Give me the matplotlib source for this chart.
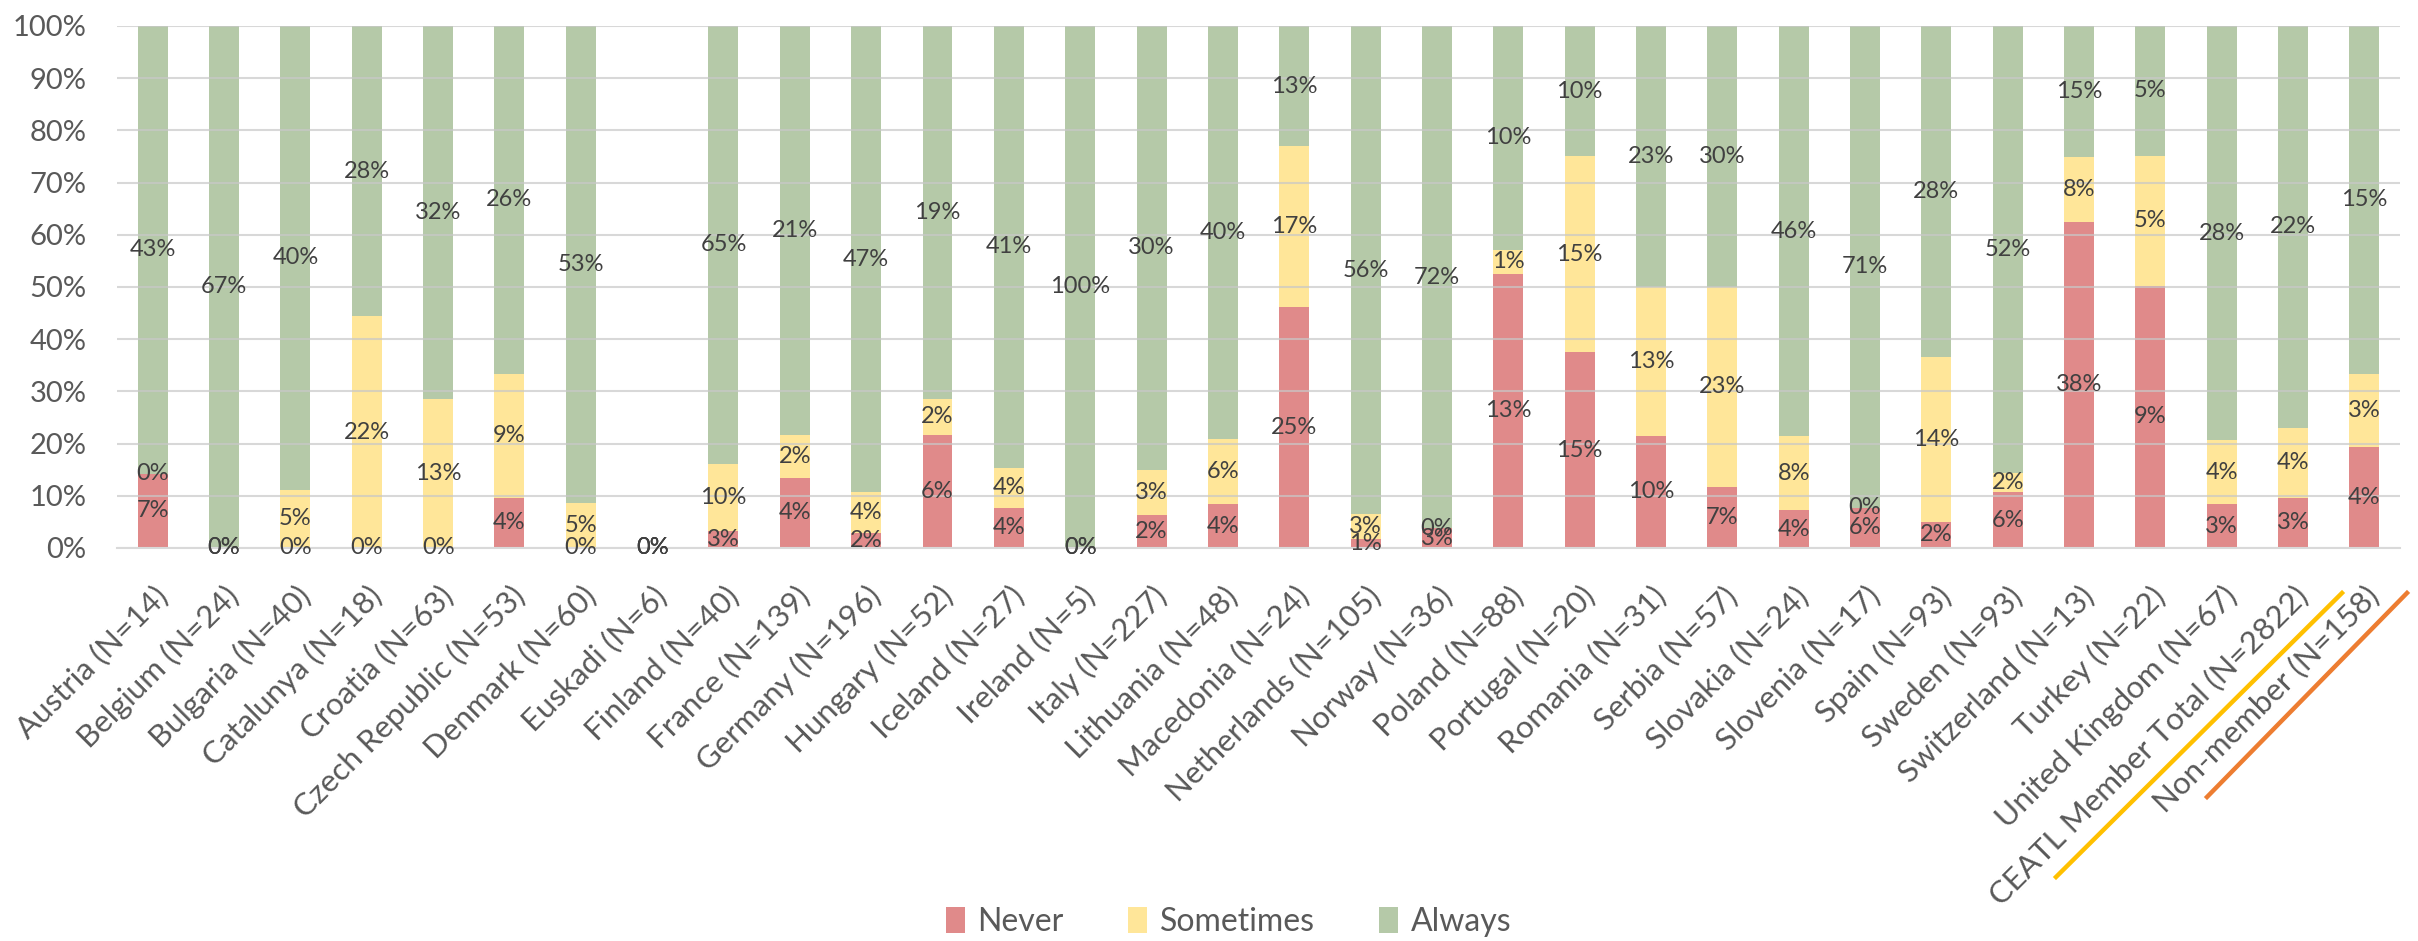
import math
import matplotlib
matplotlib.use("Agg")
import matplotlib.pyplot as plt
import numpy as np
from matplotlib.lines import Line2D
from matplotlib.patches import Patch

plt.rcParams['font.family'] = ['Lato', 'DejaVu Sans']

categories = [
    "Austria (N=14)", "Belgium (N=24)", "Bulgaria (N=40)", "Catalunya (N=18)",
    "Croatia (N=63)", "Czech Republic (N=53)", "Denmark (N=60)", "Euskadi (N=6)",
    "Finland (N=40)", "France (N=139)", "Germany (N=196)", "Hungary (N=52)",
    "Iceland (N=27)", "Ireland (N=5)", "Italy (N=227)", "Lithuania (N=48)",
    "Macedonia (N=24)", "Netherlands (N=105)", "Norway (N=36)", "Poland (N=88)",
    "Portugal (N=20)", "Romania (N=31)", "Serbia (N=57)", "Slovakia (N=24)",
    "Slovenia (N=17)", "Spain (N=93)", "Sweden (N=93)", "Switzerland (N=13)",
    "Turkey (N=22)", "United Kingdom (N=67)", "CEATL Member Total (N=2822)",
    "Non-member (N=158)",
]

# share of respondents (%) per answer
never = [7.1, 0, 0, 0, 0, 3.8, 0, 0, 2.5, 3.6, 1.5, 5.8, 3.7, 0, 2.2, 4.2,
         25.0, 1.0, 2.8, 12.5, 15.0, 9.7, 7.0, 4.2, 5.9, 2.2, 6.4, 38.4,
         9.1, 3.0, 2.8, 4.4]
sometimes = [0, 0, 5.0, 22.2, 12.7, 9.4, 5.0, 0, 10.0, 2.2, 4.1, 1.9, 3.7, 0,
             3.1, 6.3, 16.7, 2.9, 0, 1.1, 15.0, 12.9, 22.8, 8.3, 0, 14.0, 2.2,
             7.7, 4.5, 4.4, 3.9, 3.2]
always = [42.9, 66.7, 40.0, 27.8, 31.7, 26.4, 53.3, 0, 65.0, 20.9, 46.9, 19.2,
          40.7, 100.0, 30.0, 39.6, 12.5, 56.2, 72.2, 10.2, 10.0, 22.6, 29.8,
          45.8, 70.6, 28.0, 51.6, 15.4, 4.5, 28.4, 22.4, 15.2]

series_names = ["Never", "Sometimes", "Always"]
colors = ["#E08A8A", "#FFE699", "#B5C9A8"]

data = np.array([never, sometimes, always], dtype=float)
totals = data.sum(axis=0)
shares = np.divide(data, totals, out=np.zeros_like(data), where=totals > 0)


def pct(v):
    return f"{int(math.floor(v + 0.5))}%"


fig = plt.figure(figsize=(24.18, 9.41), dpi=100)
ax = fig.add_axes([0.0484, 0.4177, 0.9442, 0.5547])

x = np.arange(len(categories))
bottom = np.zeros(len(categories))
for name, vals, share, col in zip(series_names, data, shares, colors):
    ax.bar(x, share, width=0.42, bottom=bottom, color=col, label=name, zorder=2)
    for xi, b, s, v in zip(x, bottom, share, vals):
        ax.text(xi, b + s / 2, pct(v), ha="center", va="center",
                fontsize=17, color="#404040", zorder=4)
    bottom += share

ax.set_xlim(-0.5, len(categories) - 0.5)
ax.set_ylim(0, 1)
ticks = np.linspace(0, 1, 11)
ax.set_yticks(ticks)
ax.set_yticklabels([f"{int(round(t * 100))}%" for t in ticks],
                   fontsize=21, color="#595959")
ax.yaxis.grid(True, color="#C8C8C8", linewidth=1.5, alpha=0.7, zorder=3)
ax.set_axisbelow(False)
for s in ["top", "right", "left"]:
    ax.spines[s].set_visible(False)
ax.spines["bottom"].set_color("#D9D9D9")
ax.spines["bottom"].set_linewidth(1.5)
ax.spines["bottom"].set_zorder(3)
ax.tick_params(axis="both", length=0)
ax.tick_params(axis="y", pad=22)

ax.set_xticks(x)
ax.set_xticklabels(categories, rotation=45, ha="right", rotation_mode="anchor",
                   fontsize=22.5, color="#595959")
ax.tick_params(axis="x", pad=24)

# underline the two summary labels
fig.add_artist(Line2D([2056 / 2418, 2342 / 2418], [1 - 877 / 941, 1 - 593 / 941],
                      transform=fig.transFigure, color="#FFC000", linewidth=3.2))
fig.add_artist(Line2D([2207 / 2418, 2407 / 2418], [1 - 797 / 941, 1 - 593 / 941],
                      transform=fig.transFigure, color="#ED7D31", linewidth=3.2))

handles = [Patch(facecolor=c, label=n) for n, c in zip(series_names, colors)]
fig.legend(handles=handles, loc="center", bbox_to_anchor=(0.508, 1 - 922 / 941),
           ncol=3, frameon=False, fontsize=23, handlelength=0.6, handleheight=0.9,
           columnspacing=2.0, handletextpad=0.4, labelcolor="#595959")

fig.savefig("out.png", dpi=100)
